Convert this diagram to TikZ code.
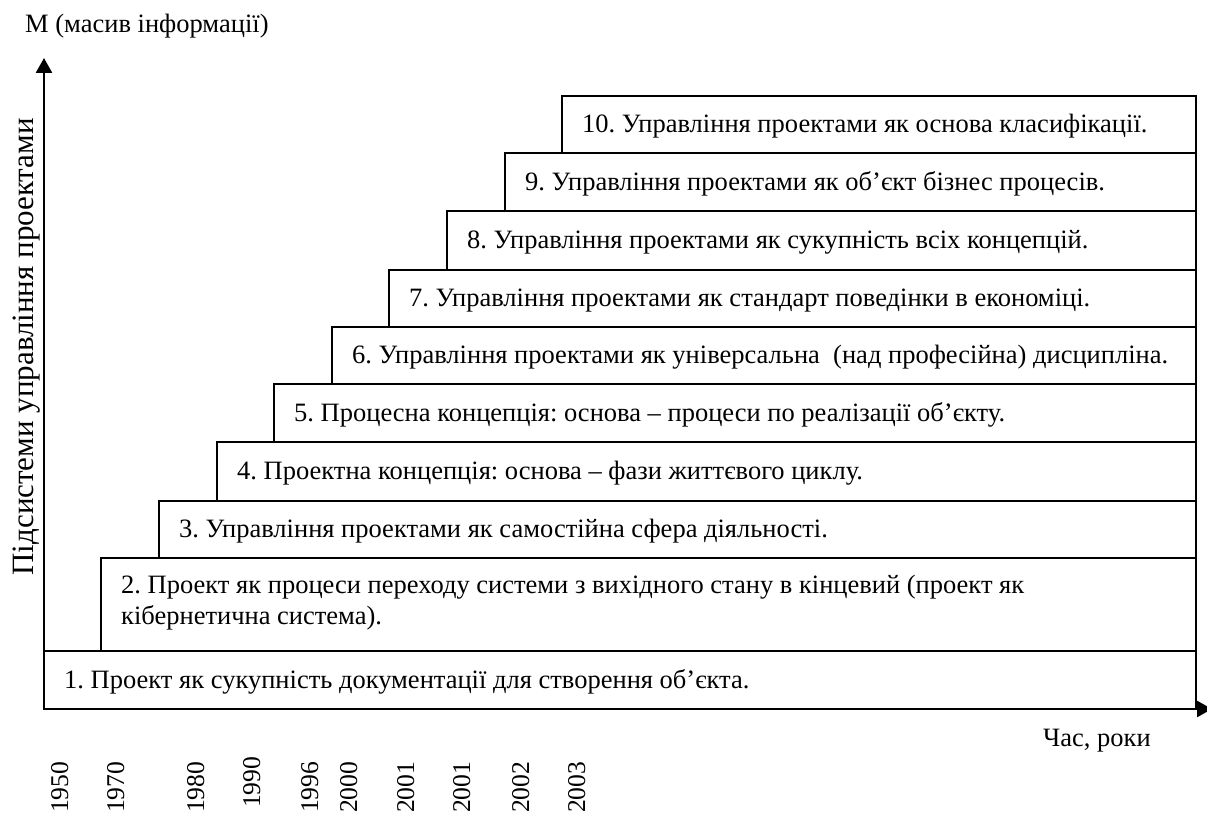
\documentclass[tikz,border=0pt]{standalone}
\usepackage{fontspec}
\setmainfont{Liberation Serif}
\frenchspacing
\usetikzlibrary{arrows.meta,calc}
\tikzset{
  stepbox/.style={draw=black, line width=1.8pt, anchor=north west, inner sep=0pt, outer sep=0pt,
    minimum height=#1},
  steptext/.style={inner sep=0pt, anchor=base west, align=left,
    font=\fontsize{26.5}{31}\selectfont},
  axis/.style={line width=2.6pt, -{Triangle[length=15pt,width=16pt]}},
  lbl/.style={inner sep=0pt, font=\fontsize{26.5}{30}\selectfont},
  yr/.style={inner sep=0pt, font=\fontsize{25.6}{30}\selectfont, rotate=90, anchor=base west}
}
\begin{document}
\begin{tikzpicture}[x=1pt,y=-1pt]
\useasboundingbox (0,0) rectangle (1207,816);
% boxes
\node[stepbox=58pt, minimum width=1152pt] (b1) at (44,651) {};
\node[stepbox=93pt, minimum width=1095pt] (b2) at (101,558) {};
\node[stepbox=57pt, minimum width=1037pt] (b3) at (159,501) {};
\node[stepbox=59pt, minimum width=979pt] (b4) at (217,442) {};
\node[stepbox=58pt, minimum width=922pt] (b5) at (274,384) {};
\node[stepbox=57pt, minimum width=864pt] (b6) at (332,327) {};
\node[stepbox=57pt, minimum width=807pt] (b7) at (389,270) {};
\node[stepbox=59pt, minimum width=749pt] (b8) at (447,211) {};
\node[stepbox=58pt, minimum width=691pt] (b9) at (505,153) {};
\node[stepbox=57pt, minimum width=634pt] (b10) at (562,96) {};
% texts
\node[steptext] (t1) at ($(b1.west)+(20,8)$) {1. Проект як сукупність документації для створення об’єкта.};
\node[steptext] (t2) at ($(b2.west)+(20,20)$) {2. Проект як процеси переходу системи з вихідного стану в кінцевий (проект як\\кібернетична система).};
\node[steptext] (t3) at ($(b3.west)+(20,8)$) {3. Управління проектами як самостійна сфера діяльності.};
\node[steptext] (t4) at ($(b4.west)+(20,8)$) {4. Проектна концепція: основа – фази життєвого циклу.};
\node[steptext] (t5) at ($(b5.west)+(20,8)$) {5. Процесна концепція: основа – процеси по реалізації об’єкту.};
\node[steptext] (t6) at ($(b6.west)+(20,8)$) {6. Управління проектами як універсальна\ \ (над професійна) дисципліна.};
\node[steptext] (t7) at ($(b7.west)+(20,8)$) {7. Управління проектами як стандарт поведінки в економіці.};
\node[steptext] (t8) at ($(b8.west)+(20,8)$) {8. Управління проектами як сукупність всіх концепцій.};
\node[steptext] (t9) at ($(b9.west)+(20,8)$) {9. Управління проектами як об’єкт бізнес процесів.};
\node[steptext] (t10) at ($(b10.west)+(20,8)$) {10. Управління проектами як основа класифікації.};
% axes
\coordinate (o) at (44,709);
\coordinate (ytip) at (44,58);
\coordinate (xtip) at (1212,709);
\draw[axis] (o) -- (ytip);
\draw[axis] (o) -- (xtip);
\node[lbl, anchor=base west] (ylab) at (25,33) {М (масив інформації)};
\node[lbl, anchor=base west] (xlab) at (1043,746) {Час, роки};
\node[inner sep=0pt, font=\fontsize{31}{34}\selectfont, rotate=90, anchor=base east] (sub) at (33,118) {Підсистеми управління проектами};
% years
\node[yr] (y1) at (68,813) {1950};
\node[yr] (y2) at (124,813) {1970};
\node[yr] (y3) at (204,813) {1980};
\node[yr] (y4) at (260,808) {1990};
\node[yr] (y5) at (318,813) {1996};
\node[yr] (y6) at (357,813) {2000};
\node[yr] (y7) at (414,813) {2001};
\node[yr] (y8) at (470,813) {2001};
\node[yr] (y9) at (529,813) {2002};
\node[yr] (y10) at (585,813) {2003};
\end{tikzpicture}
\end{document}
